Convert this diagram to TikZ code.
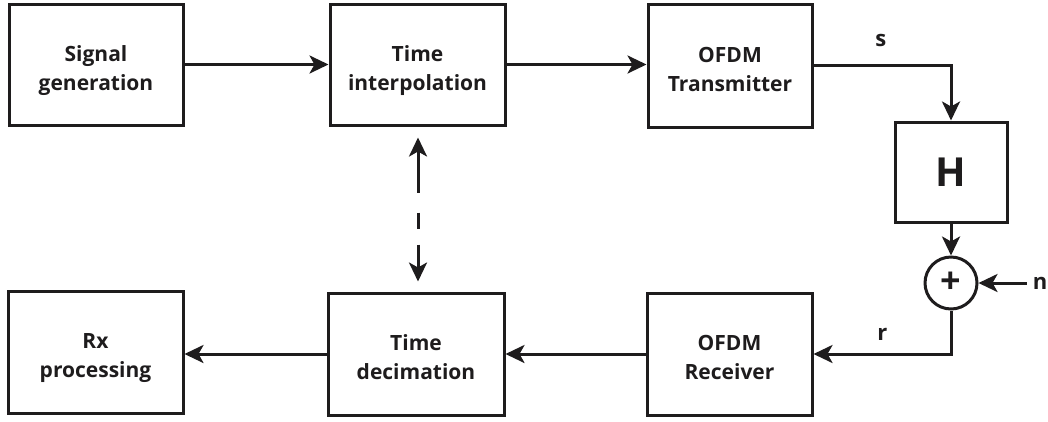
\documentclass[tikz,border=0pt]{standalone}
\usepackage{fontspec}
\setmainfont{Open Sans}
\usetikzlibrary{arrows.meta}
\definecolor{ink}{HTML}{1E1C1D}
\begin{document}
\begin{tikzpicture}[x=1pt,y=-1pt,
  tip/.style={-{Stealth[length=19pt,width=18pt,inset=5pt]}},
  blk/.style 2 args={draw=ink, line width=3pt, minimum width=#1, minimum height=#2,
    inner sep=0pt, align=center, text=ink, text height=56pt, text depth=5pt,
    font=\bfseries\fontsize{21}{29}\selectfont},
  conn/.style={draw=ink, line width=3pt, tip},
  lbl/.style={text=ink, font=\bfseries\fontsize{22}{26}\selectfont, inner sep=0pt}]
\useasboundingbox (0,0) rectangle (1048,421);
% top row
\node[blk={174}{121}] (sig) at (96,64.5) {Signal\\generation};
\node[blk={175}{121}] (tint) at (417.5,64.5) {Time\\interpolation};
\node[blk={164}{123}] (tx) at (730,65.5) {OFDM\\Transmitter};
\node[blk={112}{100}, text height=, text depth=, font=\bfseries\fontsize{40}{44}\selectfont] (h) at (951,172) {H};
% adder
\node[draw=ink, line width=3pt, circle, minimum size=52pt, inner sep=0pt,
  text=ink, font=\bfseries\fontsize{36}{36}\selectfont] (add) at (951,283) {+};
\node[lbl] (n) at (1040,283) {n};
% bottom row
\node[blk={175}{122}] (rxp) at (95.5,352) {Rx\\processing};
\node[blk={176}{122}] (dec) at (416,354) {Time\\decimation};
\node[blk={165}{122}] (rcv) at (729.5,354) {OFDM\\Receiver};
% connectors
\draw[conn] (sig.east) -- (sig.east -| tint.west);
\draw[conn] (tint.east) -- (tint.east -| tx.west);
\draw[conn] (tx.east) -| node[lbl, pos=0.245, above=17pt] {s} (h.north);
\draw[conn] (h.south) -- (add.north);
\coordinate (nw) at ([xshift=-6pt]n.west);
\draw[conn] (nw) -- (nw -| add.east);
\draw[conn] (add.south) |- node[lbl, pos=0.75, above=12pt] {r} (rcv.east);
\draw[conn] (rcv.west) -- (rcv.west -| dec.east);
\draw[conn] (dec.west) -- (dec.west -| rxp.east);
\draw[draw=ink, line width=3pt,
  {Stealth[length=19pt,width=18pt,inset=5pt]}-{Stealth[length=19pt,width=18pt,inset=5pt]},
  shorten <=11pt, shorten >=10pt, dash pattern=on 42pt off 20pt on 16pt off 16pt on 80pt]
  (tint.south -| 418,0) -- (dec.north -| 418,0);
\end{tikzpicture}
\end{document}
